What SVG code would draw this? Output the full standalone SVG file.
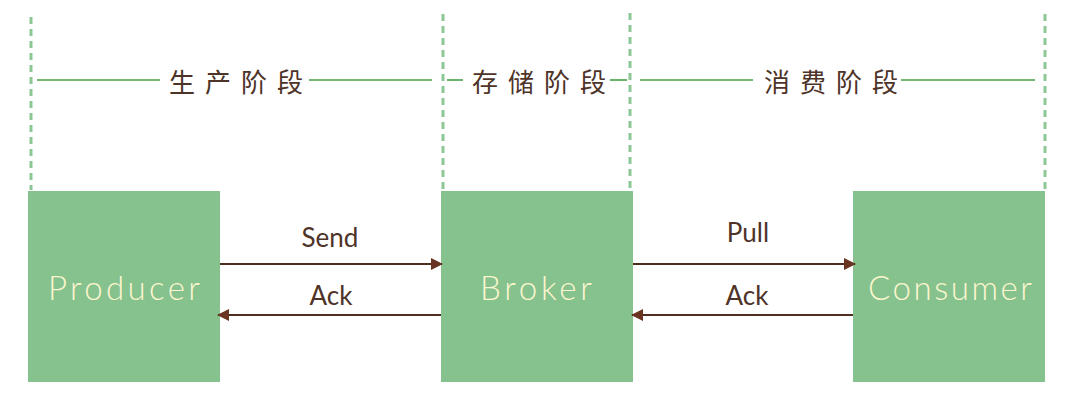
<svg xmlns="http://www.w3.org/2000/svg" width="1070" height="414" viewBox="0 0 1070 414">
<defs>
<style>
.bg{fill:#ffffff}
.phase{stroke:#8cc795;stroke-width:3;stroke-dasharray:7 5;fill:none}
.hline{stroke:#45a045;stroke-width:1.6;fill:none}
.head{font-family:"Noto Sans CJK SC","Noto Sans",sans-serif;font-size:26px;font-weight:400;fill:#4e3328;letter-spacing:10px}
.box{fill:#86c28e}
.name{font-family:Lato,"Liberation Sans",sans-serif;font-size:33px;font-weight:300;fill:#fcf6cf}
.lbl{font-family:Lato,"Liberation Sans",sans-serif;font-size:26px;font-weight:400;fill:#4e3328}
.arrow{stroke:#4f2e22;stroke-width:2;fill:none}
</style>
<marker id="ah" viewBox="0 0 12 12" refX="11" refY="6" markerWidth="12" markerHeight="12" markerUnits="userSpaceOnUse" orient="auto">
<path d="M0,0 L12,6 L0,12 Z" fill="#6a3422"/>
</marker>
</defs>
<rect class="bg" x="0" y="0" width="1070" height="414"/>

<g id="phases">
<line class="phase" x1="31" y1="17" x2="31" y2="190"/>
<line class="phase" x1="443" y1="14" x2="443" y2="190"/>
<line class="phase" x1="630" y1="13" x2="630" y2="190"/>
<line class="phase" x1="1045" y1="14" x2="1045" y2="190"/>
<line class="hline" x1="37" y1="80" x2="160" y2="80"/>
<line class="hline" x1="309" y1="80" x2="432" y2="80"/>
<line class="hline" x1="447" y1="80" x2="463" y2="80"/>
<line class="hline" x1="610" y1="80" x2="627" y2="80"/>
<line class="hline" x1="640" y1="80" x2="753" y2="80"/>
<line class="hline" x1="901" y1="80" x2="1035" y2="80"/>
<text class="head" x="169" y="92">生产阶段</text>
<text class="head" x="472" y="92">存储阶段</text>
<text class="head" x="764" y="92">消费阶段</text>
</g>

<g id="producer">
<rect class="box" x="28" y="191" width="192" height="191"/>
<text class="name" x="48" y="300" textLength="152">Producer</text>
</g>
<g id="broker">
<rect class="box" x="441" y="191" width="192" height="191"/>
<text class="name" x="480" y="300" textLength="112">Broker</text>
</g>
<g id="consumer">
<rect class="box" x="853" y="191" width="192" height="191"/>
<text class="name" x="868" y="300" textLength="164">Consumer</text>
</g>

<g id="connectors">
<line class="arrow" x1="220" y1="264" x2="442" y2="264" marker-end="url(#ah)"/>
<text class="lbl" x="330" y="247" text-anchor="middle">Send</text>
<line class="arrow" x1="441" y1="315" x2="218" y2="315" marker-end="url(#ah)"/>
<text class="lbl" x="331" y="305" text-anchor="middle">Ack</text>
<line class="arrow" x1="633" y1="264" x2="855" y2="264" marker-end="url(#ah)"/>
<text class="lbl" x="748" y="242" text-anchor="middle">Pull</text>
<line class="arrow" x1="853" y1="315" x2="632" y2="315" marker-end="url(#ah)"/>
<text class="lbl" x="747" y="305" text-anchor="middle">Ack</text>
</g>
</svg>
